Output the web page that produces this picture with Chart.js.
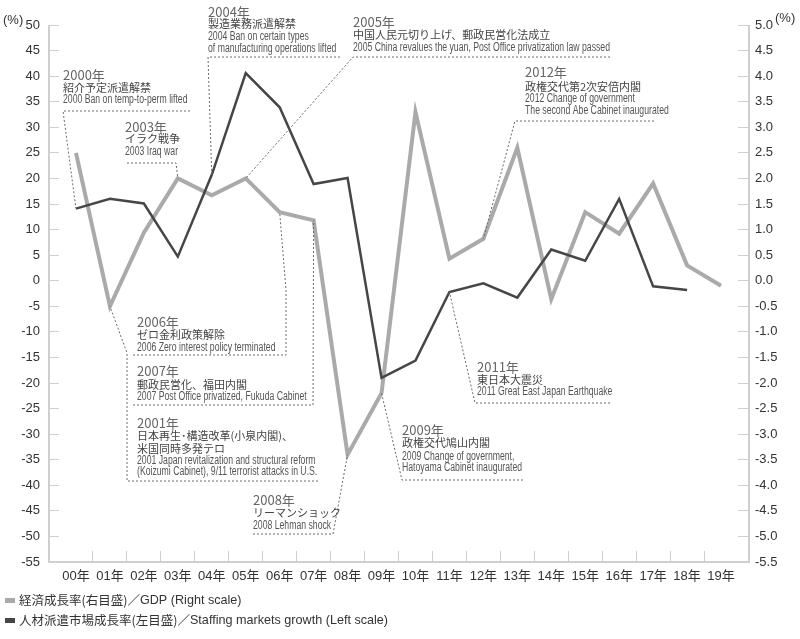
<!DOCTYPE html>
<html><head><meta charset="utf-8">
<script src="https://cdn.jsdelivr.net/npm/chart.js@4/dist/chart.umd.min.js"></script>
<style>
html,body{margin:0;padding:0;background:#fff;}
#wrap{position:relative;width:800px;height:639px;}
</style></head><body>
<div id="wrap"><canvas id="c"></canvas></div>
<script>
// ---- data ----
const years = ['00年','01年','02年','03年','04年','05年','06年','07年','08年','09年','10年','11年','12年','13年','14年','15年','16年','17年','18年','19年'];
const gdpGrowth = [2.5, -0.5, 0.94, 2.0, 1.67, 2.0, 1.34, 1.18, -3.4, -2.2, 3.3, 0.43, 0.82, 2.6, -0.36, 1.34, 0.92, 1.9, 0.3, -0.1];
const staffingGrowth = [14.1, 16.0, 15.1, 4.7, 20.7, 40.6, 33.9, 18.9, 20.1, -19.0, -15.6, -2.2, -0.5, -3.3, 6.1, 3.9, 16.0, -1.1, -1.8, null];
const leftRange = [-55, 50, 5];
const rightRange = [-5.5, 5.0, 0.5];
const seriesLabels = ['経済成長率(右目盛)／GDP (Right scale)', '人材派遣市場成長率(左目盛)／Staffing markets growth (Left scale)'];

// ---- annotations (text + leader lines; the leader ends on a data point) ----
const notes = [
  {x:63, lines:[['y','2000年',75],['j','紹介予定派遣解禁',88],['e','2000 Ban on temp-to-perm lifted',100]], path:[[190,111],[63,111]], to:['s',0]},
  {x:125, lines:[['y','2003年',127],['j','イラク戦争',139],['e','2003 Iraq war',152]], path:[[127,163],[176,163]], to:['g',3]},
  {x:208, lines:[['y','2004年',12],['j','製造業務派遣解禁',24],['e','2004 Ban on certain types',37],['e','of manufacturing operations lifted',49]], path:[[340,57],[208,57]], to:['s',4]},
  {x:353, lines:[['y','2005年',22],['j','中国人民元切り上げ、郵政民営化法成立',35],['e','2005 China revalues the yuan, Post Office privatization law passed',48]], path:[[610,57],[353,57]], to:['g',5]},
  {x:525, lines:[['y','2012年',72],['j','政権交代第2次安倍内閣',87],['e','2012 Change of government',99],['e','The second Abe Cabinet inaugurated',111]], path:[[654,121],[515,121]], to:['g',12]},
  {x:137, lines:[['y','2006年',322],['j','ゼロ金利政策解除',335],['e','2006 Zero interest policy terminated',348]], path:[[133,355],[286,355],[286,290]], to:['g',6]},
  {x:137, lines:[['y','2007年',371],['j','郵政民営化、福田内閣',385],['e','2007 Post Office privatized, Fukuda Cabinet',397]], path:[[133,405],[313,405]], to:['g',7]},
  {x:137, lines:[['y','2001年',423],['j','日本再生･構造改革(小泉内閣)、',436],['j','米国同時多発テロ',449],['e','2001 Japan revitalization and structural reform',461],['e','(Koizumi Cabinet), 9/11 terrorist attacks in U.S.',472]], path:[[318,481],[127,481],[127,353]], to:['g',1]},
  {x:253, lines:[['y','2008年',500],['j','リーマンショック',513],['e','2008 Lehman shock',526]], path:[[253,534],[333,534]], to:['g',8]},
  {x:402, lines:[['y','2009年',430],['j','政権交代鳩山内閣',443],['e','2009 Change of government,',457],['e','Hatoyama Cabinet inaugurated',468]], path:[[523,480],[402,480]], to:['g',9]},
  {x:477, lines:[['y','2011年',367],['j','東日本大震災',380],['e','2011 Great East Japan Earthquake',392]], path:[[610,403],[475,403]], to:['s',11]}
];

const FONT_Y = '13px "Noto Sans CJK JP"';
const FONT_J = '11px "Noto Sans CJK JP"';
const FONT_E = '12px "Liberation Sans"';
const EN_REF = ['2005 China revalues the yuan, Post Office privatization law passed', 257];
const AXIS_COLOR = '#cfcfcf';
const GDP_COLOR = '#aaaaaa';
const STAFF_COLOR = '#464646';

const framePlugin = {
  id: 'frame',
  beforeDatasetsDraw(chart) {
    const {ctx, chartArea: a} = chart;
    ctx.save();
    ctx.strokeStyle = AXIS_COLOR;
    ctx.lineWidth = 2;
    ctx.beginPath();
    ctx.moveTo(a.left - 10, a.top); ctx.lineTo(a.left - 10, a.bottom);
    ctx.lineTo(a.right + 11, a.bottom); ctx.lineTo(a.right + 11, a.top);
    ctx.stroke();
    ctx.restore();
  },
  afterDraw(chart) {
    const {ctx} = chart;
    const xs = chart.scales.x, yl = chart.scales.yL, yr = chart.scales.yR;
    ctx.save();
    // leader lines
    ctx.strokeStyle = '#6a6a6a';
    ctx.lineWidth = 1;
    ctx.setLineDash([2, 2]);
    notes.forEach(n => {
      ctx.beginPath();
      n.path.forEach((p, k) => k === 0 ? ctx.moveTo(p[0], p[1]) : ctx.lineTo(p[0], p[1]));
      const i = n.to[1];
      const v = n.to[0] === 'g' ? gdpGrowth[i] : staffingGrowth[i];
      const sc = n.to[0] === 'g' ? yr : yl;
      ctx.lineTo(xs.getPixelForValue(i), sc.getPixelForValue(v));
      ctx.stroke();
    });
    ctx.setLineDash([]);
    // texts
    ctx.textBaseline = 'middle';
    ctx.textAlign = 'left';
    ctx.font = FONT_E;
    const k = EN_REF[1] / ctx.measureText(EN_REF[0]).width;
    notes.forEach(n => {
      n.lines.forEach(([t, s, y]) => {
        if (t === 'y') { ctx.font = FONT_Y; ctx.fillStyle = '#666'; ctx.fillText(s, n.x, y); }
        else if (t === 'j') { ctx.font = FONT_J; ctx.fillStyle = '#444'; ctx.fillText(s, n.x, y); }
        else {
          ctx.font = FONT_E; ctx.fillStyle = '#555';
          ctx.save(); ctx.translate(n.x, y); ctx.scale(k, 1); ctx.fillText(s, 0, 0); ctx.restore();
        }
      });
    });
    // unit labels
    ctx.font = '13px "Liberation Sans"';
    ctx.fillStyle = '#333';
    ctx.fillText('(%)', 3, 20);
    ctx.fillText('(%)', 775, 18);
    // legend
    const ds = chart.data.datasets;
    const rows = [600, 620];
    ds.forEach((d, j) => {
      ctx.fillStyle = d.borderColor;
      ctx.fillRect(5, rows[j] - 2, 10, 5);
      ctx.fillStyle = '#333';
      const parts = d.label.split('／');
      ctx.font = '12.5px "Noto Sans CJK JP"';
      ctx.fillText(parts[0] + '／', 19, rows[j]);
      const w = ctx.measureText(parts[0] + '／').width;
      ctx.font = '13px "Liberation Sans"';
      ctx.save(); ctx.translate(19 + w, rows[j]); ctx.scale(0.97, 1); ctx.fillText(parts[1], 0, 0); ctx.restore();
    });
    ctx.restore();
  }
};

const fmt1 = v => { const r = Math.round(v * 10) / 10; return (Math.abs(r) < 1e-9 ? 0 : r).toFixed(1); };

new Chart(document.getElementById('c'), {
  type: 'line',
  data: {
    labels: years,
    datasets: [
      {label: seriesLabels[0], data: gdpGrowth, yAxisID: 'yR', borderColor: GDP_COLOR, backgroundColor: GDP_COLOR, borderWidth: 4, pointRadius: 0, tension: 0, order: 1},
      {label: seriesLabels[1], data: staffingGrowth, yAxisID: 'yL', borderColor: STAFF_COLOR, backgroundColor: STAFF_COLOR, borderWidth: 2.5, pointRadius: 0, tension: 0, order: 0}
    ]
  },
  options: {
    responsive: true,
    maintainAspectRatio: false,
    animation: false,
    layout: {padding: {top: 25, bottom: 37, left: 0, right: 0}},
    plugins: {legend: {display: false}, tooltip: {enabled: false}},
    scales: {
      x: {
        type: 'category', offset: true,
        border: {display: false},
        grid: {offset: true, drawOnChartArea: false, tickLength: -11, lineWidth: 1,
               color: c => (c.index === undefined || c.index === 0) ? 'rgba(0,0,0,0)' : AXIS_COLOR},
        ticks: {padding: 18, autoSkip: false, maxRotation: 0, color: '#333', font: {family: '"Liberation Sans", "Noto Sans CJK JP"', size: 13}},
        afterFit: s => { s.height = 40; }
      },
      yL: {
        type: 'linear', position: 'left', min: leftRange[0], max: leftRange[1],
        border: {display: false},
        grid: {drawOnChartArea: false, tickLength: 10, color: AXIS_COLOR, lineWidth: 1},
        ticks: {stepSize: leftRange[2], autoSkip: false, padding: 9, color: '#333', font: {family: '"Liberation Sans"', size: 13}},
        afterFit: s => { s.width = 59; }
      },
      yR: {
        type: 'linear', position: 'right', min: rightRange[0], max: rightRange[1],
        border: {display: false},
        grid: {drawOnChartArea: false, tickLength: 11, color: AXIS_COLOR, lineWidth: 1},
        ticks: {stepSize: rightRange[2], autoSkip: false, padding: 6, color: '#333', font: {family: '"Liberation Sans"', size: 13}, callback: v => fmt1(v)},
        afterFit: s => { s.width = 62; }
      }
    }
  },
  plugins: [framePlugin]
});
</script>
</body></html>
